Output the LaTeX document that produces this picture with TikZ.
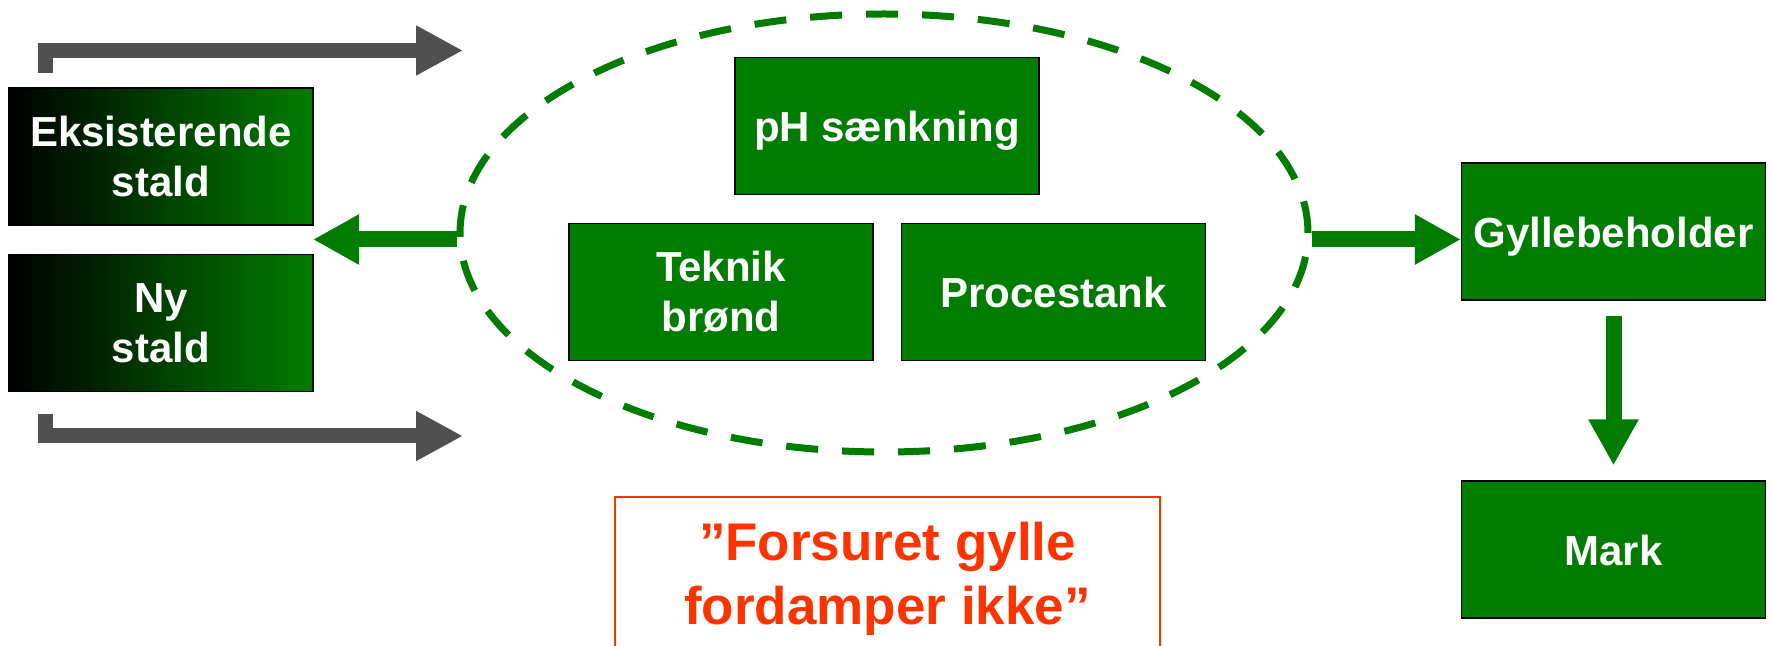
\documentclass[tikz,border=0pt]{standalone}
\usepackage{fontspec}
\setmainfont{Liberation Sans}
\usetikzlibrary{arrows.meta,shapes.geometric}
\definecolor{boxgreen}{RGB}{0,125,0}
\definecolor{arrowgray}{RGB}{80,80,80}
\definecolor{notered}{RGB}{255,51,0}

\begin{document}
\begin{tikzpicture}
  [x=0.5pt,y=-0.5pt,
   box/.style={rectangle,draw=black,line width=0.6pt,fill=boxgreen,text=white,
     minimum width=152pt,minimum height=68.5pt,inner sep=2pt,align=center,
     font=\fontsize{21}{25}\selectfont\bfseries},
   onebox/.style={box,text height=16pt,text depth=0pt},
   fadebox/.style={box,left color=black,right color=boxgreen},
   greenarrow/.style={draw=boxgreen,line width=8pt,-{Triangle[length=23pt,width=23.5pt]}},
   grayarrow/.style={draw=arrowgray,line width=7.5pt,-{Triangle[length=23.5pt,width=23.5pt]}}]
  \useasboundingbox (0,0) rectangle (1772,646);

  \node[ellipse,draw=boxgreen,line width=3.5pt,dash pattern=on 16pt off 12pt,
    minimum width=424pt,minimum height=219pt,inner sep=0pt] (ring) at (884,233) {};

  \node[fadebox] (eks) at (161,156.5) {Eksisterende\\stald};
  \node[fadebox] (ny) at (161,323) {Ny\\stald};
  \node[onebox] (ph) at (887,126) {pH sænkning};
  \node[box] (teknik) at (721,292) {Teknik\\brønd};
  \node[onebox] (proces) at (1053.5,292) {Procestank};
  \node[onebox] (gylle) at (1613.5,231.5) {Gyllebeholder};
  \node[onebox] (mark) at (1613.5,549.5) {Mark};

  \node[draw=notered,line width=1pt,text=notered,minimum width=272.5pt,
    minimum height=82pt,anchor=north,align=center,
    font=\fontsize{26.5}{32}\selectfont\bfseries] (note) at (887.5,496)
    {”Forsuret gylle\\fordamper ikke”};

  \coordinate (gap) at (313,239.5);
  \coordinate (topstart) at (45,73);
  \coordinate (toptip) at (463,50.5);
  \coordinate (botstart) at (45,414);
  \coordinate (bottip) at (463,436);

  \draw[grayarrow] (topstart) |- (toptip);
  \draw[grayarrow] (botstart) |- (bottip);

  \draw[greenarrow] (ring.west |- gap) -- (gap);
  \draw[greenarrow] (ring.east |- gap) -- (gap -| gylle.west);
  \draw[greenarrow,shorten <=7.5pt,shorten >=7.5pt] (gylle) -- (mark);
\end{tikzpicture}
\end{document}
